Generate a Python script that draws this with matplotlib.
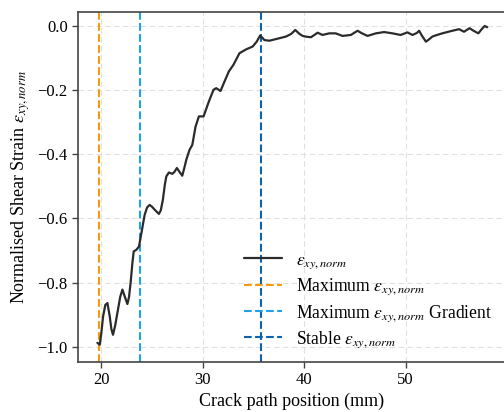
import matplotlib
matplotlib.use("Agg")
import matplotlib.pyplot as plt

plt.rcParams["font.family"] = ["Liberation Serif", "DejaVu Serif"]
plt.rcParams["mathtext.fontset"] = "stix"
plt.rcParams["axes.unicode_minus"] = True

# Normalised shear strain along the crack path
position_mm = [19.60, 19.83, 19.98, 20.16, 20.38, 20.59, 20.82, 20.98, 21.14, 21.35,
               21.57, 21.85, 22.07, 22.29, 22.56, 22.72, 22.88, 23.05, 23.18, 23.44,
               23.70, 23.94, 24.26, 24.50, 24.75, 25.00, 25.25, 25.67, 25.85, 26.06,
               26.25, 26.40, 26.65, 26.99, 27.20, 27.44, 27.70, 27.97, 28.17, 28.37,
               28.69, 28.96, 29.28, 29.61, 30.07, 30.59, 31.05, 31.32, 31.52, 31.74,
               32.14, 32.56, 33.02, 33.61, 34.27, 34.92, 35.31, 35.65, 35.85, 36.07,
               36.56, 37.20, 37.70, 38.20, 38.70, 39.12, 39.50, 39.84, 40.30, 40.67,
               41.00, 41.32, 41.80, 42.47, 43.10, 43.78, 44.60, 45.00, 45.26, 45.70,
               46.24, 47.07, 47.88, 48.70, 49.50, 50.18, 50.67, 51.10, 51.33, 51.60,
               52.00, 52.30, 52.64, 53.10, 53.62, 54.10, 54.60, 55.27, 55.76, 56.05,
               56.30, 56.70, 57.17, 57.50, 57.80, 58.05]
strain_norm = [-0.988, -0.994, -0.960, -0.906, -0.870, -0.864, -0.906, -0.945, -0.963, -0.935,
               -0.895, -0.845, -0.822, -0.843, -0.867, -0.845, -0.800, -0.740, -0.703, -0.698,
               -0.688, -0.646, -0.589, -0.566, -0.558, -0.564, -0.573, -0.586, -0.575, -0.542,
               -0.495, -0.469, -0.457, -0.461, -0.455, -0.443, -0.455, -0.467, -0.443, -0.417,
               -0.386, -0.371, -0.314, -0.282, -0.282, -0.236, -0.199, -0.194, -0.198, -0.203,
               -0.173, -0.142, -0.121, -0.085, -0.073, -0.064, -0.049, -0.030, -0.036, -0.044,
               -0.046, -0.041, -0.037, -0.033, -0.025, -0.0125, -0.024, -0.031, -0.034, -0.035,
               -0.028, -0.021, -0.028, -0.023, -0.023, -0.031, -0.028, -0.020, -0.015, -0.023,
               -0.031, -0.023, -0.019, -0.023, -0.028, -0.020, -0.028, -0.022, -0.015, -0.030,
               -0.049, -0.042, -0.033, -0.028, -0.023, -0.019, -0.015, -0.010, -0.018, -0.012,
               -0.007, -0.015, -0.023, -0.010, 0.000, -0.004]

# Reference positions (mm)
max_strain_pos = 19.73
max_gradient_pos = 23.80
stable_pos = 35.75

x_ticks = [20, 30, 40, 50]
y_ticks = [-1.0, -0.8, -0.6, -0.4, -0.2, 0.0]

fig = plt.figure(figsize=(5.04, 4.12), dpi=100)
ax = fig.add_axes([0.155, 0.122, 0.847, 0.850])

ax.grid(True, color="#e0e0e0", linestyle=(0, (5, 3)), linewidth=0.8, zorder=0)
ax.set_axisbelow(True)

eps = r"$\varepsilon_{xy,norm}$"
ax.plot(position_mm, strain_norm, color="#2b2b2b", linewidth=1.6,
        solid_joinstyle="round", solid_capstyle="round", label=eps, zorder=3)
ax.axvline(max_strain_pos, color="#f59a0c", linestyle="--", linewidth=1.5,
           label="Maximum " + eps, zorder=2)
ax.axvline(max_gradient_pos, color="#1fa3e6", linestyle="--", linewidth=1.5,
           label="Maximum " + eps + " Gradient", zorder=2)
ax.axvline(stable_pos, color="#0b62ad", linestyle="--", linewidth=1.5,
           label="Stable " + eps, zorder=2)

ax.set_xlim(17.7, 59.8)
ax.set_ylim(-1.047, 0.045)
ax.set_xticks(x_ticks)
ax.set_yticks(y_ticks)
ax.tick_params(direction="out", length=4, width=1.0, labelsize=12, color="#444444")

for side in ["left", "bottom", "top"]:
    ax.spines[side].set_color("#444444")
    ax.spines[side].set_linewidth(1.2)
ax.spines["right"].set_visible(False)

ax.set_xlabel("Crack path position (mm)", fontsize=13, labelpad=3)
ax.set_ylabel("Normalised Shear Strain " + eps, fontsize=13, labelpad=4)

ax.legend(loc="lower right", bbox_to_anchor=(1.008, -0.012), frameon=False, fontsize=12.7,
          handlelength=2.15, handletextpad=0.8, labelspacing=0.33)

fig.savefig("out.png", dpi=100)
